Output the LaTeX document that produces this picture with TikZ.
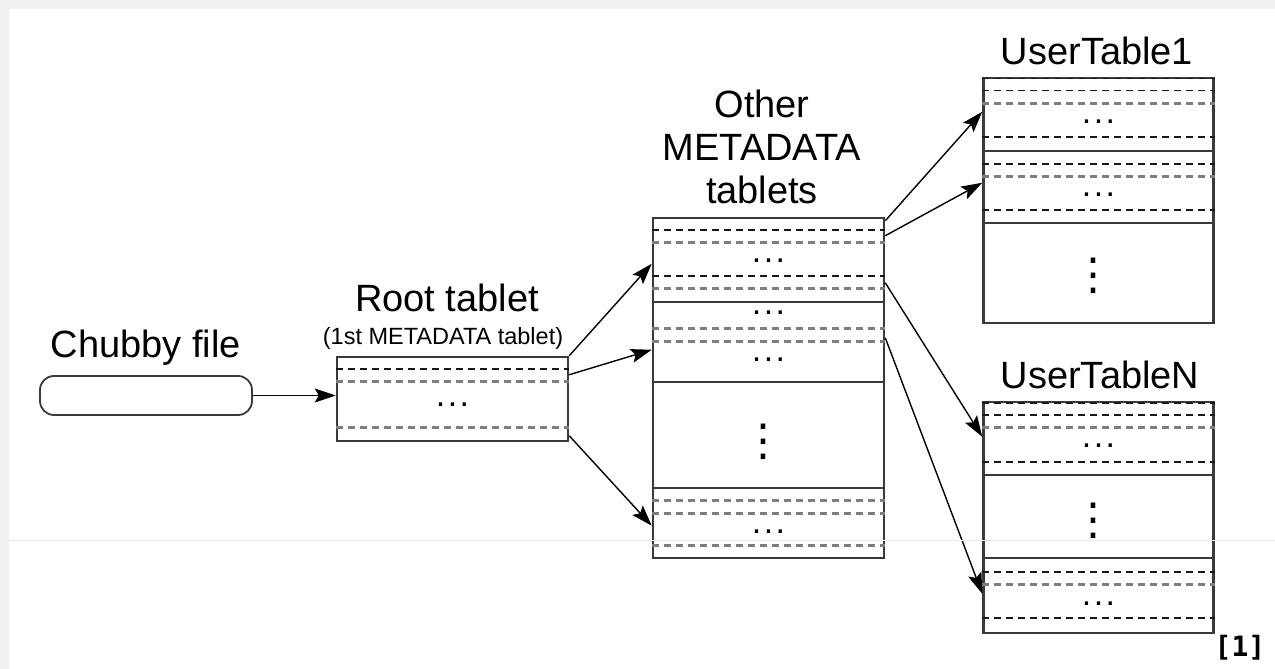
\documentclass[tikz,border=0pt]{standalone}
\usepackage{fontspec}
\setmainfont{Liberation Sans}
\newfontfamily\monob{DejaVu Sans Mono}
\newfontfamily\dvs{DejaVu Sans}
\usetikzlibrary{arrows.meta}
\definecolor{bandgray}{HTML}{F0F0F0}
\definecolor{dashgray}{HTML}{7E7E7E}
\definecolor{edgecol}{HTML}{3A3A3A}
\newcommand\rowline[3]{\draw[#3] ([yshift=-#2pt]#1.north west) -- ([yshift=-#2pt]#1.north east);}
\newcommand\hdotsat[3]{\node[hdotsty] (#1) at ([yshift=-#3pt]#2.north) {.\kern2.5pt.\kern2.5pt.};}
\newcommand\vdotsat[3]{\node[vdotsty] (#1) at ([xshift=-5pt,yshift=-#3pt-3pt]#2.north) {⋮};}
\begin{document}
\begin{tikzpicture}[x=1pt,y=-1pt,
  tbl/.style={draw=edgecol, line width=2.5pt, inner sep=0pt, minimum width=231pt},
  pill/.style={draw=edgecol, line width=1.8pt, rounded corners=14pt, inner sep=0pt, minimum width=212pt, minimum height=39pt},
  bdash/.style={black!90, line width=1.5pt, dash pattern=on 7pt off 5pt},
  gdash/.style={dashgray, line width=2.8pt, dash pattern=on 7pt off 5pt},
  solidrow/.style={edgecol, line width=2.5pt},
  arr/.style={black, line width=1.4pt, -{Stealth[length=21pt,width=14pt,inset=4pt]}},
  lbl/.style={font=\fontsize{38}{43}\selectfont, inner sep=0pt},
  sublbl/.style={font=\fontsize{23.5}{26}\selectfont, inner sep=0pt},
  hdotsty/.style={font=\fontsize{34}{34}\selectfont, inner sep=0pt},
  vdotsty/.style={font=\dvs\fontsize{44}{44}\selectfont, inner sep=0pt}
]
\useasboundingbox (0,0) rectangle (1275,669);
\fill[bandgray] (0,0) rectangle (1275,669);
\fill[white] (9,9) rectangle (1275,669);

% tables
\node[pill] (chubby) at (146,395.5) {};
\node[tbl, minimum height=84pt] (root) at (452.5,399) {};
\node[tbl, minimum height=340pt] (mid) at (768.5,388) {};
\node[tbl, minimum width=230pt, minimum height=245pt] (ut1) at (1098.5,200.5) {};
\node[tbl, minimum width=230pt, minimum height=231pt] (utn) at (1098.5,517.5) {};

% labels
\node[lbl, anchor=base] (chubbylbl) at (146,357) {Chubby file};
\node[lbl, anchor=base] (rootlbl) at (447,311) {Root tablet};
\node[sublbl, anchor=base] (rootsub) at (443,344) {(1st METADATA tablet)};
\node[lbl, align=center] (midlbl) at (762,147) {Other\\METADATA\\tablets};
\node[lbl, anchor=base] (ut1lbl) at (1097,65) {UserTable1};
\node[lbl, anchor=base] (utnlbl) at (1100,388) {UserTableN};
\node[font=\monob\bfseries\fontsize{28}{28}\selectfont, inner sep=0pt, anchor=base] (refl) at (1240,656) {[1]};

% root rows
\rowline{root}{13}{bdash}
\rowline{root}{26}{gdash}
\hdotsat{rootd}{root}{49}
\rowline{root}{72}{gdash}

% middle rows
\rowline{mid}{13}{bdash}
\rowline{mid}{26}{gdash}
\hdotsat{midd1}{mid}{44}
\rowline{mid}{59}{bdash}
\rowline{mid}{72}{gdash}
\rowline{mid}{85}{solidrow}
\hdotsat{midd2}{mid}{96}
\rowline{mid}{112}{gdash}
\rowline{mid}{125}{gdash}
\hdotsat{midd3}{mid}{143}
\rowline{mid}{165}{solidrow}
\vdotsat{midv}{mid}{222}
\rowline{mid}{271}{solidrow}
\rowline{mid}{284}{gdash}
\rowline{mid}{297}{gdash}
\hdotsat{midd4}{mid}{315}
\rowline{mid}{329}{gdash}

% UserTable1 rows
\rowline{ut1}{2}{bdash}
\rowline{ut1}{14}{bdash}
\rowline{ut1}{27}{gdash}
\hdotsat{ut1d1}{ut1}{45}
\rowline{ut1}{60}{bdash}
\rowline{ut1}{74}{solidrow}
\rowline{ut1}{87}{bdash}
\rowline{ut1}{100}{gdash}
\hdotsat{ut1d2}{ut1}{118}
\rowline{ut1}{133}{bdash}
\rowline{ut1}{146}{solidrow}
\vdotsat{ut1v}{ut1}{196}

% UserTableN rows
\rowline{utn}{2}{bdash}
\rowline{utn}{14}{bdash}
\rowline{utn}{27}{gdash}
\hdotsat{utnd1}{utn}{45}
\rowline{utn}{61}{bdash}
\rowline{utn}{74}{solidrow}
\vdotsat{utnv}{utn}{117}
\rowline{utn}{157}{solidrow}
\rowline{utn}{171}{bdash}
\rowline{utn}{184}{gdash}
\hdotsat{utnd2}{utn}{203}
\rowline{utn}{217}{bdash}

% connectors
\draw[arr] (chubby.east) -- (chubby.east -| root.west);
\draw[arr] (root.north east) -- ([yshift=-47pt]mid.north west);
\draw[arr] ([yshift=-19pt]root.north east) -- ([yshift=-133pt]mid.north west);
\draw[arr] ([yshift=-80pt]root.north east) -- ([yshift=-309pt]mid.north west);
\draw[arr] ([yshift=-4pt]mid.north east) -- ([yshift=-35pt]ut1.north west);
\draw[arr] ([yshift=-19pt]mid.north east) -- ([yshift=-106pt]ut1.north west);
\draw[arr] ([yshift=-66pt]mid.north east) -- ([yshift=-36pt]utn.north west);
\draw[arr] ([yshift=-121pt]mid.north east) -- ([yshift=-193pt]utn.north west);

% faint scan line
\draw[black!8, line width=1pt] (9,540.5) -- (1275,540.5);
\end{tikzpicture}
\end{document}
